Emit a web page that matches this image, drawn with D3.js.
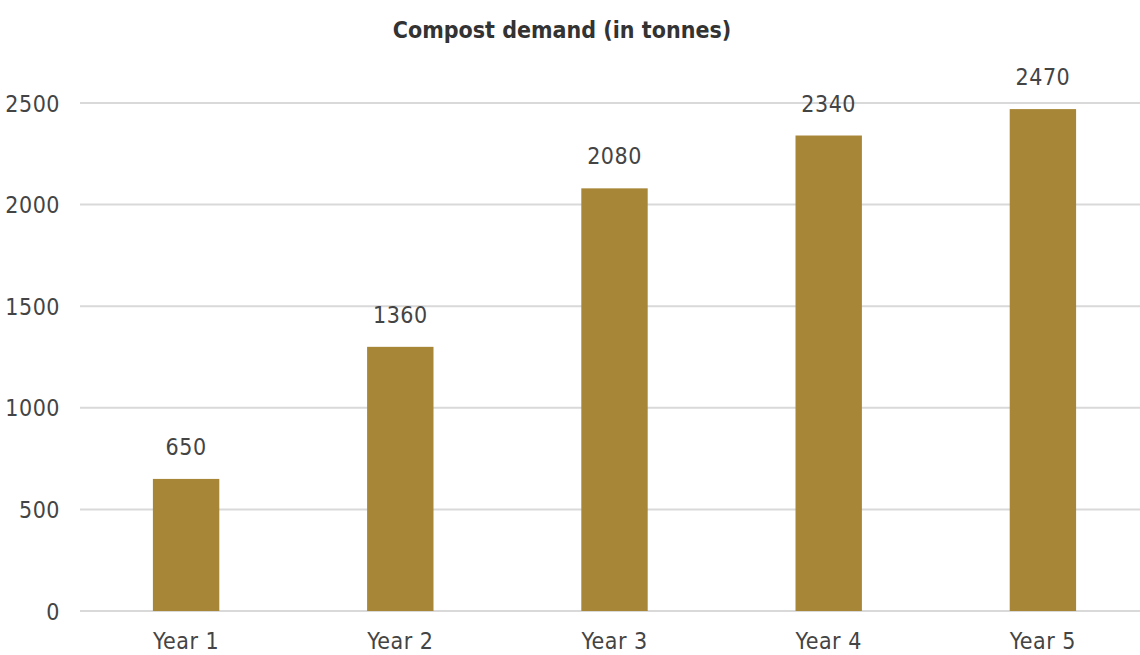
<!DOCTYPE html>
<html lang="en">
<head>
    <meta charset="UTF-8">
    <title>Compost demand (in tonnes)</title>
    <script src="https://cdn.jsdelivr.net/npm/d3@7"></script>
</head>
<style>
    body { margin: 0; background: #fff; }
    svg { display: block; font-family: "DejaVu Sans Condensed", "DejaVu Sans", sans-serif; font-stretch: condensed; }
    .tick text { font-size: 23px; fill: #444; letter-spacing: 0.5px; font-family: "DejaVu Sans Condensed", "DejaVu Sans", sans-serif; }
    .value-label { font-size: 23px; fill: #444; letter-spacing: 0.5px; }
    .title { font-size: 23px; font-weight: bold; fill: #333; }
</style>
<body>
    <div id="graphDiv"></div>
    <script>
        // Chart data
        const years = ["Year 1", "Year 2", "Year 3", "Year 4", "Year 5"];
        const barValues = [650, 1300, 2080, 2340, 2470];
        const labelValues = ["650", "1360", "2080", "2340", "2470"];
        const yTicks = [0, 500, 1000, 1500, 2000, 2500];

        const width = 1140;
        const height = 655;
        const margin = {top: 60, right: -10, bottom: 44, left: 79};

        const svg = d3.select("#graphDiv").append("svg")
            .attr("width", width)
            .attr("height", height);

        const x = d3.scaleBand()
            .domain(years)
            .range([margin.left, width - margin.right])
            .paddingInner(0.69)
            .paddingOuter(0.345);

        const y = d3.scaleLinear()
            .domain([0, 2500])
            .range([611, 103]);

        // Gridlines
        svg.append("g")
            .selectAll("line")
            .data(yTicks)
            .join("line")
            .attr("x1", 80)
            .attr("x2", width)
            .attr("y1", d => y(d))
            .attr("y2", d => y(d))
            .attr("stroke", "#d9d9d9")
            .attr("stroke-width", 2);

        // Y axis labels
        const yAxis = svg.append("g")
            .attr("transform", `translate(60,0)`)
            .call(d3.axisLeft(y).tickValues(yTicks).tickFormat(d3.format("d")).tickSize(0).tickPadding(0));
        yAxis.select(".domain").remove();
        yAxis.selectAll("text").attr("dy", "0.35em");

        // Bars
        svg.append("g")
            .selectAll("rect")
            .data(years)
            .join("rect")
            .attr("x", d => x(d))
            .attr("y", (d, i) => y(barValues[i]))
            .attr("width", x.bandwidth())
            .attr("height", (d, i) => y(0) - y(barValues[i]))
            .attr("fill", "#a88637");

        // Value labels
        svg.append("g")
            .selectAll("text")
            .data(years)
            .join("text")
            .attr("class", "value-label")
            .attr("x", d => x(d) + x.bandwidth() / 2)
            .attr("y", (d, i) => y(barValues[i]) - 24)
            .attr("text-anchor", "middle")
            .text((d, i) => labelValues[i]);

        // X axis labels
        const xAxis = svg.append("g")
            .attr("transform", `translate(0,${y(0)})`)
            .call(d3.axisBottom(x).tickSize(0).tickPadding(22));
        xAxis.select(".domain").remove();

        // Title
        svg.append("text")
            .attr("class", "title")
            .attr("x", 562)
            .attr("y", 38)
            .attr("text-anchor", "middle")
            .text("Compost demand (in tonnes)");
    </script>
</body>
</html>
